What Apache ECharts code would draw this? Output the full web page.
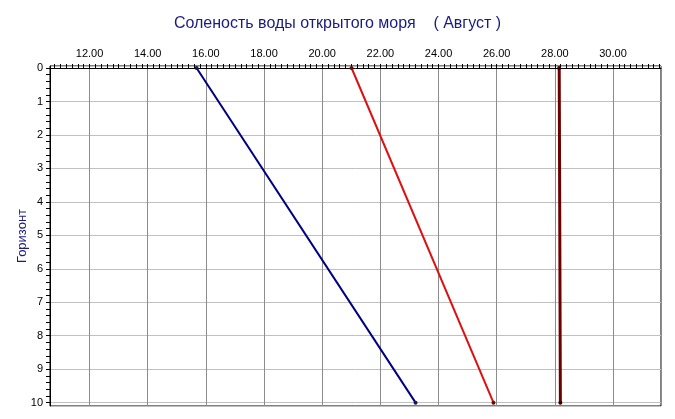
<!DOCTYPE html>
<html><head><meta charset="utf-8">
<script src="https://cdn.jsdelivr.net/npm/echarts@6/dist/echarts.min.js"></script>
<style>html,body{margin:0;padding:0;background:#fff}#c{width:675px;height:419px}</style>
</head><body><div id="c"></div>
<script>
const titleText = 'Соленость воды открытого моря    ( Август )';
const yName = 'Горизонт';
const xTickLabels = [12, 14, 16, 18, 20, 22, 24, 26, 28, 30];
const yTickLabels = [0, 1, 2, 3, 4, 5, 6, 7, 8, 9, 10];
const depthsBlue = [0, 10];
const salinityBlue = [15.68, 23.21];
const depthsRed = [0, 10];
const salinityRed = [21.01, 25.89];
const depthsDark = [0, 5, 10];
const salinityDark = [28.15, 28.17, 28.19];

const xMin = 10.64, xMax = 31.65, yMin = -0.06, yMax = 10.1;
const xMinor = []; for (let i = 54; i <= 158; i++) xMinor.push(+(i * 0.2).toFixed(1));
const yMinor = []; for (let i = 0; i <= 50; i++) yMinor.push(+(i * 0.2).toFixed(1));

const font = 'Liberation Sans, Arial, sans-serif';
const chart = echarts.init(document.getElementById('c'));
function pairs(xs, ys, hideMid) {
  return xs.map((x, i) => {
    const item = { value: [x, ys[i]] };
    if (hideMid && i > 0 && i < xs.length - 1) item.symbol = 'none';
    return item;
  });
}
chart.setOption({
  animation: false,
  backgroundColor: '#fff',
  title: { text: titleText, left: 'center', top: 11,
    textStyle: { fontFamily: font, fontSize: 16, fontWeight: 'normal', color: '#1a1a80' } },
  grid: { left: 50, right: 14, top: 66, bottom: 13, show: true, borderColor: '#000', borderWidth: 1, backgroundColor: 'transparent' },
  xAxis: [
    { type: 'value', position: 'top', min: xMin, max: xMax,
      axisLine: { show: true, lineStyle: { color: '#000', width: 1 } },
      axisTick: { show: true, inside: false, length: 4, customValues: xMinor, lineStyle: { color: '#000' } },
      axisLabel: { show: true, customValues: xTickLabels, margin: 7, color: '#000', fontFamily: font, fontSize: 11,
        formatter: v => Number(v).toFixed(2) },
      splitLine: { show: false } },
    { type: 'value', position: 'top', min: xMin, max: xMax, splitNumber: 10,
      axisLine: { show: false }, axisTick: { show: false }, axisLabel: { show: false },
      splitLine: { show: true, lineStyle: { color: '#8c8c8c', width: 1 } } }
  ],
  yAxis: [
    { type: 'value', inverse: true, min: yMin, max: yMax,
      name: yName, nameLocation: 'middle', nameGap: 21, nameRotate: 90, nameMoveOverlap: false,
      nameTextStyle: { fontFamily: font, fontSize: 13, color: '#1a1a80' },
      axisLine: { show: true, lineStyle: { color: '#000', width: 1 } },
      axisTick: { show: true, length: 4, customValues: yMinor, lineStyle: { color: '#000' } },
      axisLabel: { show: true, customValues: yTickLabels, margin: 7, color: '#000', fontFamily: font, fontSize: 11 },
      splitLine: { show: false } },
    { type: 'value', inverse: true, min: yMin, max: yMax, splitNumber: 10,
      axisLine: { show: false }, axisTick: { show: false }, axisLabel: { show: false },
      splitLine: { show: true, lineStyle: { color: '#c0c0c0', width: 1 } } }
  ],
  series: [
    { type: 'line', xAxisIndex: 0, yAxisIndex: 0, data: pairs(salinityBlue, depthsBlue),
      symbol: 'circle', symbolSize: 4, showAllSymbol: true,
      lineStyle: { color: '#000080', width: 2 }, itemStyle: { color: '#1a1a40' } },
    { type: 'line', xAxisIndex: 0, yAxisIndex: 0, data: pairs(salinityRed, depthsRed),
      symbol: 'circle', symbolSize: 4, showAllSymbol: true,
      lineStyle: { color: '#dd1010', width: 2 }, itemStyle: { color: '#5a1010' } },
    { type: 'line', xAxisIndex: 0, yAxisIndex: 0, data: pairs(salinityDark, depthsDark, true),
      symbol: 'circle', symbolSize: 4, showAllSymbol: true,
      lineStyle: { color: '#6e0000', width: 3 }, itemStyle: { color: '#3a0000' } }
  ]
});
</script></body></html>
